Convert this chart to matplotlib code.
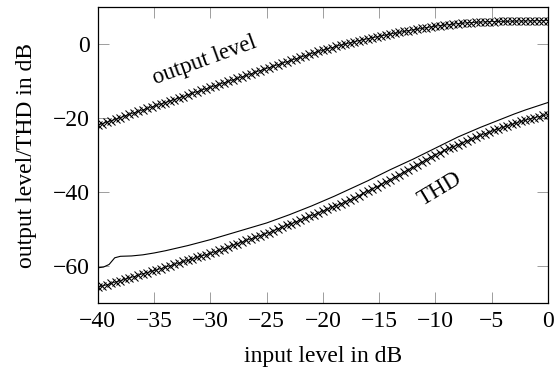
import numpy as np
import matplotlib
matplotlib.use("Agg")
from matplotlib import pyplot as plt

# input level grid of the simulated curves (0.4 dB steps)
input_level = np.linspace(-40, 0, 101)

# simulated output level in dB (x marks)
output_level = [
    -22.0, -21.6, -21.2, -20.8, -20.4, -20.0, -19.5, -19.1, -18.7, -18.3,
    -17.9, -17.5, -17.1, -16.7, -16.3, -15.9, -15.5, -15.1, -14.7, -14.3,
    -13.8, -13.4, -13.0, -12.6, -12.2, -11.8, -11.4, -11.0, -10.6, -10.2,
    -9.8, -9.4, -9.0, -8.6, -8.2, -7.7, -7.3, -6.9, -6.5, -6.1,
    -5.7, -5.3, -4.9, -4.5, -4.1, -3.7, -3.3, -2.9, -2.5, -2.1,
    -1.8, -1.4, -1.1, -0.7, -0.4, -0.1, 0.2, 0.5, 0.8, 1.1,
    1.3, 1.6, 1.8, 2.1, 2.3, 2.6, 2.8, 3.0, 3.3, 3.5,
    3.7, 3.9, 4.1, 4.3, 4.5, 4.7, 4.85, 5.0, 5.1, 5.25,
    5.4, 5.5, 5.6, 5.65, 5.75, 5.8, 5.85, 5.9, 5.95, 5.98,
    6.0, 6.02, 6.05, 6.07, 6.1, 6.1, 6.12, 6.15, 6.17, 6.18,
    6.2,
]

# simulated THD in dB (x marks)
thd_sim = [
    -65.8, -65.4, -65.1, -64.7, -64.3, -64.0, -63.6, -63.2, -62.9, -62.5,
    -62.1, -61.8, -61.4, -61.1, -60.7, -60.3, -60.0, -59.6, -59.2, -58.8,
    -58.5, -58.1, -57.7, -57.3, -57.0, -56.6, -56.2, -55.7, -55.3, -54.9,
    -54.4, -54.0, -53.6, -53.1, -52.7, -52.3, -51.8, -51.4, -51.0, -50.5,
    -50.0, -49.5, -49.0, -48.6, -48.1, -47.6, -47.1, -46.6, -46.2, -45.7,
    -45.2, -44.7, -44.2, -43.7, -43.2, -42.7, -42.2, -41.6, -41.0, -40.4,
    -39.8, -39.2, -38.6, -38.0, -37.3, -36.7, -36.0, -35.4, -34.7, -34.0,
    -33.4, -32.7, -32.0, -31.3, -30.6, -30.0, -29.4, -28.8, -28.3, -27.8,
    -27.3, -26.8, -26.3, -25.8, -25.3, -24.8, -24.3, -23.9, -23.4, -23.0,
    -22.6, -22.2, -21.8, -21.4, -21.0, -20.7, -20.3, -20.0, -19.7, -19.4,
    -19.2,
]

# measured THD in dB (solid line)
thd_input = [-40, -39.5, -39, -38.5, -38, -37, -36, -35, -34, -33, -32, -31, -30,
             -29, -28, -27, -26, -25, -24, -23, -22, -21, -20, -19, -18, -17,
             -16, -15, -14, -13, -12, -11, -10, -9, -8, -7, -6, -5, -4, -3,
             -2, -1, 0]
thd_meas = [-60.5, -60.3, -59.6, -57.8, -57.4, -57.3, -57.0, -56.5, -55.9, -55.2,
            -54.5, -53.7, -52.9, -52.0, -51.1, -50.2, -49.3, -48.4, -47.3, -46.2,
            -45.0, -43.8, -42.5, -41.2, -39.8, -38.4, -37.0, -35.5, -34.0, -32.6,
            -31.2, -29.7, -28.2, -26.7, -25.2, -23.9, -22.6, -21.4, -20.2, -19.0,
            -17.9, -16.9, -15.9]

plt.rcParams["font.family"] = ["Liberation Serif", "DejaVu Serif"]

fig = plt.figure(figsize=(5.56, 3.75), dpi=100)
ax = fig.add_axes([0.176, 0.192, 0.8096, 0.7886])

ax.plot(thd_input, thd_meas, color="black", linewidth=0.8)
ax.plot(input_level, output_level, color="black", linewidth=0.6,
        marker="x", markersize=5.8, markeredgewidth=0.75)
ax.plot(input_level, thd_sim, color="black", linewidth=0.6,
        marker="x", markersize=5.8, markeredgewidth=0.75)

ax.text(-30.5, -4.6, "output level", rotation=20, fontsize=16.5,
        ha="center", va="center")
ax.text(-9.6, -39.3, "THD", rotation=31, fontsize=16.5,
        ha="center", va="center")

ax.set_xlim(-40, 0)
ax.set_ylim(-70, 9.8)
ax.set_xticks(range(-40, 1, 5))
ax.set_yticks([-60, -40, -20, 0])
ax.tick_params(direction="in", length=8, width=0.5, color="#777777",
               labelsize=17, top=True, right=True, pad=6)
for s in ax.spines.values():
    s.set_linewidth(0.9)

ax.set_xlabel("input level in dB", fontsize=17, labelpad=10)
ax.set_ylabel("output level/THD in dB", fontsize=17, labelpad=11)

fig.savefig("out.png", dpi=100)
